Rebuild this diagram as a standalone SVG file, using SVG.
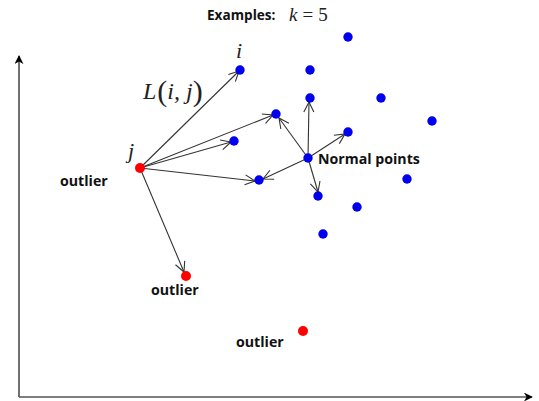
<svg xmlns="http://www.w3.org/2000/svg" width="539" height="401" viewBox="0 0 539 401">
<style>
.lbl{font-family:"Open Sans","Noto Sans",sans-serif;font-weight:bold;font-size:14.2px;fill:#111}
.math{font-family:"Liberation Serif","DejaVu Serif",serif;font-style:italic;fill:#222}
.blue{fill:#0000ee}
.red{fill:#ff0000}
.con line{stroke:#333;stroke-width:1.1;marker-end:url(#open)}
</style>
<defs>
<marker id="open" viewBox="0 0 12 12" refX="11" refY="6" markerWidth="12" markerHeight="12" markerUnits="userSpaceOnUse" orient="auto">
<path d="M1,1 L11,6 L1,11" fill="none" stroke="#333" stroke-width="1.1"/>
</marker>
<marker id="solid" viewBox="0 0 10 10" refX="9" refY="5" markerWidth="9" markerHeight="9" markerUnits="userSpaceOnUse" orient="auto">
<path d="M0,0 L10,5 L0,10 L3,5 Z" fill="#000"/>
</marker>
</defs>
<rect width="539" height="401" fill="#fff"/>
<g id="axes" fill="none" stroke="#222" stroke-width="1.3">
<path d="M19,397 L19,56" marker-end="url(#solid)"/>
<path d="M19,397 L532,397" stroke="#555" marker-end="url(#solid)"/>
</g>
<g id="title">
<text x="207" y="20" class="lbl" style="font-size:13.6px">Examples:</text>
<text x="289" y="21" class="math" font-size="19">k<tspan font-style="normal" dx="5">=</tspan><tspan font-style="normal" dx="5">5</tspan></text>
</g>
<g class="con" id="connectors">
<line x1="140" y1="168" x2="239" y2="71"/>
<line x1="140" y1="168" x2="273" y2="115"/>
<line x1="140" y1="168" x2="231" y2="142"/>
<line x1="140" y1="168" x2="255" y2="181"/>
<line x1="140" y1="168" x2="184" y2="272"/>
<line x1="308" y1="158" x2="279" y2="118"/>
<line x1="308" y1="158" x2="309" y2="102"/>
<line x1="308" y1="158" x2="345" y2="134"/>
<line x1="308" y1="158" x2="263" y2="179"/>
<line x1="308" y1="158" x2="318" y2="192"/>
</g>
<g id="normal-points">
<circle class="blue" cx="348" cy="37" r="4.7"/>
<circle class="blue" id="i" cx="240" cy="70" r="4.7"/>
<circle class="blue" cx="310" cy="70" r="4.7"/>
<circle class="blue" cx="310" cy="98" r="4.7"/>
<circle class="blue" cx="381" cy="98" r="4.7"/>
<circle class="blue" cx="276" cy="114" r="4.7"/>
<circle class="blue" cx="432" cy="121" r="4.7"/>
<circle class="blue" cx="348" cy="132" r="4.7"/>
<circle class="blue" cx="234" cy="141" r="4.7"/>
<circle class="blue" cx="308" cy="158" r="4.7"/>
<circle class="blue" cx="259" cy="180" r="4.7"/>
<circle class="blue" cx="407" cy="179" r="4.7"/>
<circle class="blue" cx="318" cy="196" r="4.7"/>
<circle class="blue" cx="357" cy="207" r="4.7"/>
<circle class="blue" cx="323" cy="234" r="4.7"/>
<text x="318" y="164" class="lbl">Normal points</text>
</g>
<g id="outlier-j">
<circle class="red" cx="140" cy="168" r="5"/>
<text x="60" y="186" class="lbl">outlier</text>
</g>
<g id="outlier-2">
<circle class="red" cx="186" cy="276" r="5"/>
<text x="151" y="295" class="lbl">outlier</text>
</g>
<g id="outlier-3">
<circle class="red" cx="303" cy="331" r="5"/>
<text x="236" y="347" class="lbl">outlier</text>
</g>
<g id="math-labels">
<text x="236" y="58" class="math" font-size="22">i</text>
<text x="128" y="158" class="math" font-size="22">j</text>
<text x="143" y="99" class="math" font-size="24">L<tspan font-style="normal" font-size="30" dy="2" dx="1">(</tspan><tspan dy="-2">i, j</tspan><tspan font-style="normal" font-size="30" dy="2">)</tspan></text>
</g>
</svg>
